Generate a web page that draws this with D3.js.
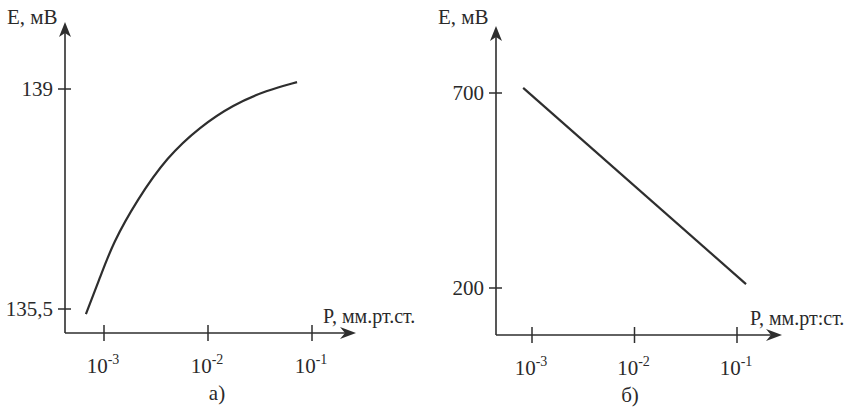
<!DOCTYPE html>
<html><head><meta charset="utf-8">
<script src="https://cdn.jsdelivr.net/npm/d3@7"></script>
<style>
body{margin:0;background:#fff}svg{display:block}
svg text, svg tspan{font-family:"Liberation Serif", serif !important}
</style>
</head><body><svg id="c" width="860" height="407"></svg>
<script>
// Panel a) data
const pressureA = [6.7e-4, 9.2e-4, 1.22e-3, 2.07e-3, 4.04e-3, 8.4e-3, 0.0174, 0.0369, 0.0718];
const emfA = [135.42, 136.01, 136.55, 137.23, 137.92, 138.40, 138.75, 138.98, 139.11];
const yTicksA = [135.5, 139];
const yTickLabelsA = ["135,5", "139"];
// Panel b) data
const pressureB = [8.2e-4, 0.1225];
const emfB = [713, 210];
const yTicksB = [200, 700];
const yTickLabelsB = ["200", "700"];
// shared
const xTicks = [1e-3, 1e-2, 1e-1];
const xTickExp = ["-3", "-2", "-1"];
const yTitle = "E, мВ";
const xTitleA = "P, мм.рт.ст.";
const xTitleB = "P, мм.рт:ст.";
const captions = ["а)", "б)"];

const svg = d3.select("#c");
const ink = "#2e2e2e";

function txt(g, x, y, size, s, anchor) {
  const t = g.append("text").attr("x", x).attr("y", y).attr("font-size", size)
    .attr("font-family", "Liberation Serif").attr("fill", "#2a2a2a")
    .attr("text-anchor", anchor || "start").text(s);
  t.node().style.setProperty("font-family", "Liberation Serif, serif", "important");
  return t;
}

function panel(o) {
  const g = svg.append("g");
  const x = d3.scaleLog().domain([1e-3, 1e-1]).range([o.x3, o.x1]);
  const y = d3.scaleLinear().domain(o.yDom).range(o.yRange);
  g.append("line").attr("x1", o.ax).attr("x2", o.ax).attr("y1", o.ay).attr("y2", o.yTop + 6)
    .attr("stroke", ink).attr("stroke-width", 1.6);
  g.append("line").attr("x1", o.ax).attr("x2", o.xEnd - 6).attr("y1", o.ay).attr("y2", o.ay)
    .attr("stroke", ink).attr("stroke-width", 1.6);
  const ty = o.yTop, tx = o.xEnd;
  g.append("path").attr("d", `M${o.ax},${ty} L${o.ax + 6},${ty + 15} L${o.ax},${ty + 11} L${o.ax - 6},${ty + 15} Z`).attr("fill", ink);
  g.append("path").attr("d", `M${tx},${o.ay} L${tx - 16},${o.ay - 6} L${tx - 11},${o.ay} L${tx - 16},${o.ay + 6} Z`).attr("fill", ink);
  o.yTicks.forEach((v, i) => {
    const yy = y(v);
    g.append("line").attr("x1", o.ax - 7).attr("x2", o.ax + 6).attr("y1", yy).attr("y2", yy).attr("stroke", ink).attr("stroke-width", 1.5);
    txt(g, o.ax - 12, yy + 7, 21, o.yLabels[i], "end");
  });
  xTicks.forEach((v, i) => {
    const xx = x(v);
    g.append("line").attr("x1", xx).attr("x2", xx).attr("y1", o.ay - 8).attr("y2", o.ay + 8).attr("stroke", ink).attr("stroke-width", 1.5);
    const t = txt(g, xx - 1, o.ay + 40, 21, "", "middle");
    t.append("tspan").text("10");
    t.append("tspan").attr("font-size", 14).attr("dy", -9).text(xTickExp[i]);
  });
  txt(g, o.ax - 58, 24, 21, yTitle);
  txt(g, o.xtx, o.ay - 10, 20, o.xTitle);
  txt(g, o.capX, o.capY, 21, o.caption, "middle");
  const line = d3.line().x(d => x(d[0])).y(d => y(d[1])).curve(d3.curveBasis);
  g.append("path").datum(o.px.map((p, i) => [p, o.py[i]])).attr("d", line)
    .attr("fill", "none").attr("stroke", ink).attr("stroke-width", 2.2);
}

panel({ax: 65, ay: 333, yTop: 22, xEnd: 356, x3: 104, x1: 312,
  yDom: [135.5, 139], yRange: [309, 89], yTicks: yTicksA, yLabels: yTickLabelsA,
  xTitle: xTitleA, xtx: 323, caption: captions[0], capX: 217, capY: 400,
  px: pressureA, py: emfA});
panel({ax: 496, ay: 335, yTop: 26, xEnd: 782, x3: 532, x1: 737,
  yDom: [200, 700], yRange: [288, 93], yTicks: yTicksB, yLabels: yTickLabelsB,
  xTitle: xTitleB, xtx: 750, caption: captions[1], capX: 630, capY: 402,
  px: pressureB, py: emfB});
</script></body></html>
